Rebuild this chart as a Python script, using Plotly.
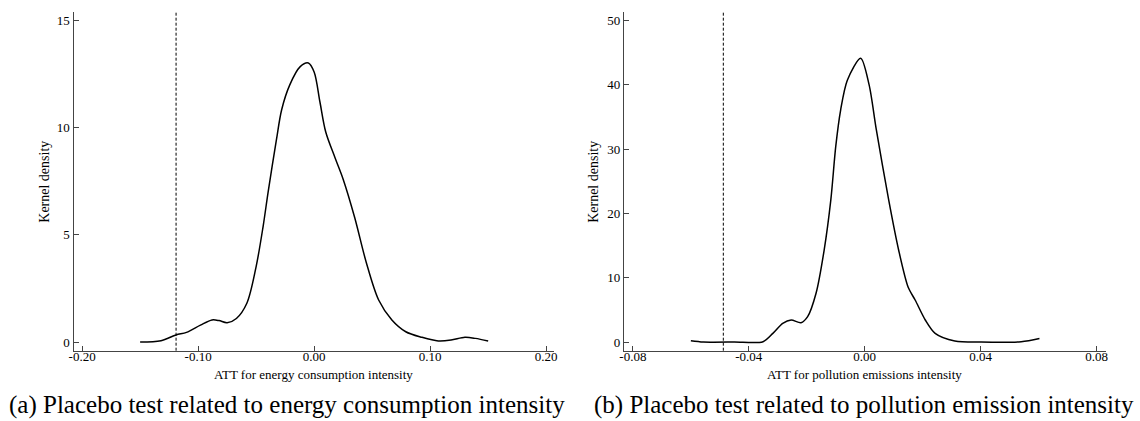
import plotly.graph_objects as go

# ---- data ----
energy_x = [-0.150, -0.132, -0.119, -0.110, -0.098, -0.088, -0.082, -0.075, -0.067, -0.058,
            -0.050, -0.044, -0.0396, -0.0325, -0.028, -0.021, -0.012, -0.005, 0.000, 0.005,
            0.010, 0.018, 0.025, 0.035, 0.045, 0.0556, 0.067, 0.079, 0.093, 0.107,
            0.118, 0.130, 0.139, 0.150]
energy_y = [0.00, 0.06, 0.33, 0.45, 0.79, 1.03, 1.00, 0.90, 1.10, 1.81,
            3.52, 5.39, 7.02, 9.44, 10.84, 12.0, 12.85, 13.02, 12.6, 11.2,
            9.8, 8.6, 7.6, 5.8, 3.7, 1.96, 1.03, 0.48, 0.22, 0.05,
            0.09, 0.22, 0.17, 0.05]
energy_true_att = -0.119

pollution_x = [-0.060, -0.0557, -0.045, -0.0351, -0.0317, -0.0283, -0.0254, -0.022, -0.0197, -0.0168,
               -0.014, -0.0117, -0.010, -0.0083, -0.006, -0.0014, 0.0015, 0.004, 0.0083, 0.0117,
               0.0150, 0.0174, 0.0209, 0.0243, 0.0311, 0.0402, 0.054, 0.0603]
pollution_y = [0.2, 0.0, 0.0, 0.05, 1.35, 2.9, 3.42, 3.0, 3.94, 7.57,
               14.3, 22.1, 30.4, 36.1, 40.7, 44.1, 40.0, 33.0, 22.0, 14.3,
               8.5, 6.53, 3.42, 1.35, 0.16, 0.0, 0.05, 0.55]
pollution_true_att = -0.0488

energy_xticks = [-0.20, -0.10, 0.00, 0.10, 0.20]
energy_xticklabels = ["-0.20", "-0.10", "0.00", "0.10", "0.20"]
energy_yticks = [0, 5, 10, 15]
pollution_xticks = [-0.08, -0.04, 0.00, 0.04, 0.08]
pollution_xticklabels = ["-0.08", "-0.04", "0.00", "0.04", "0.08"]
pollution_yticks = [0, 10, 20, 30, 40, 50]

xtitle_a = "ATT for energy consumption intensity"
xtitle_b = "ATT for pollution emissions intensity"
ytitle = "Kernel density"
caption_a = "(a) Placebo test related to energy consumption intensity"
caption_b = "(b) Placebo test related to pollution emission intensity"

# ---- figure ----
W, H = 1140, 421
FONT = "Liberation Serif, Times New Roman, serif"
AX = "#444444"

fig = go.Figure()
fig.add_trace(go.Scatter(x=energy_x, y=energy_y, mode="lines", line=dict(color="black", width=1.5, shape="spline", smoothing=0.9),
                         xaxis="x", yaxis="y", showlegend=False))
fig.add_trace(go.Scatter(x=pollution_x, y=pollution_y, mode="lines", line=dict(color="black", width=1.5, shape="spline", smoothing=0.8),
                         xaxis="x2", yaxis="y2", showlegend=False))

ydom = [(H - 350.7) / H, (H - 12) / H]
common = dict(showgrid=False, zeroline=False, showline=True, linecolor=AX, linewidth=1.3,
              ticks="inside", ticklen=5, tickcolor=AX, tickwidth=1.2,
              tickfont=dict(family=FONT, size=13, color="black"))

fig.update_layout(
    width=W, height=H, margin=dict(l=0, r=0, t=0, b=0),
    paper_bgcolor="white", plot_bgcolor="white",
    xaxis=dict(domain=[69 / W, 553.3 / W], range=[-0.2074, 0.2071], tickvals=energy_xticks,
               ticktext=energy_xticklabels, anchor="y", ticklabelstandoff=-6, **common),
    yaxis=dict(domain=ydom, range=[-0.405, 15.4], tickvals=energy_yticks, anchor="x", **common),
    xaxis2=dict(domain=[623.3 / W, 1108.3 / W], range=[-0.0831, 0.0831], tickvals=pollution_xticks,
                ticktext=pollution_xticklabels, anchor="y2", ticklabelstandoff=-6, **common),
    yaxis2=dict(domain=ydom, range=[-1.35, 51.3], tickvals=pollution_yticks, anchor="x2", **common),
)

for xr, v in (("x", energy_true_att), ("x2", pollution_true_att)):
    fig.add_shape(type="line", xref=xr, yref="y domain" if xr == "x" else "y2 domain",
                  x0=v, x1=v, y0=0, y1=1, line=dict(color="black", width=1, dash="3px,2px"))

def ann(text, x, y, size, angle=0):
    fig.add_annotation(text=text, x=x / W, y=(H - y) / H, xref="paper", yref="paper",
                       showarrow=False, textangle=angle, xanchor="center", yanchor="middle",
                       borderpad=0, font=dict(family=FONT, size=size, color="black"))

ann(xtitle_a, 311, 374, 13)
ann(xtitle_b, 866, 374, 13)
ann(ytitle, 39, 182, 14, -90)
ann(ytitle, 592, 182, 14, -90)
ann(caption_a, 284, 405, 25)
ann(caption_b, 865.5, 405, 25)

fig.write_html("out.html")
